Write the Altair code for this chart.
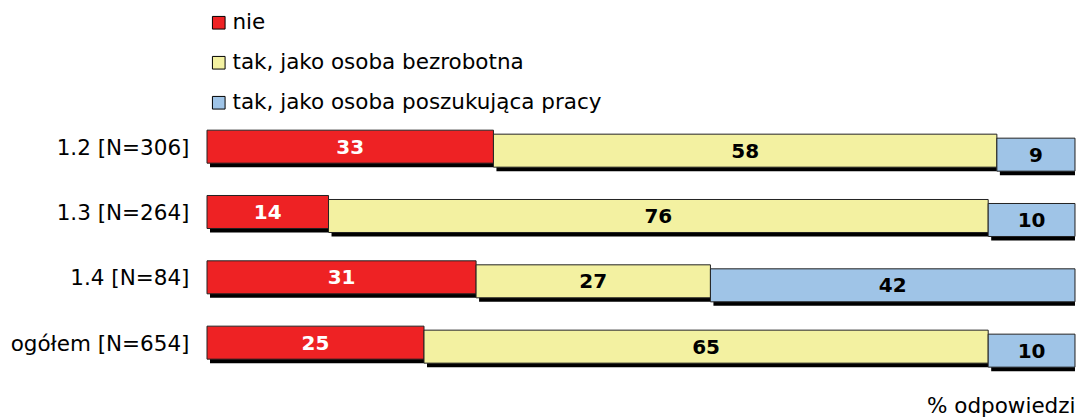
import altair as alt
import pandas as pd

categories = ["1.2 [N=306]", "1.3 [N=264]", "1.4 [N=84]", "ogółem [N=654]"]
series = ["nie", "tak, jako osoba bezrobotna", "tak, jako osoba poszukująca pracy"]
nie = [33, 14, 31, 25]
bezrobotna = [58, 76, 27, 65]
poszukujaca = [9, 10, 42, 10]
colors = ["#EE2224", "#F3F1A1", "#9FC4E7"]
text_colors = ["white", "black", "black"]

rows = []
for si, (s, vals) in enumerate(zip(series, [nie, bezrobotna, poszukujaca])):
    for c, v in zip(categories, vals):
        rows.append({"cat": c, "series": s, "order": si, "value": v})
df = pd.DataFrame(rows)

FONT = "DejaVu Sans"
STEP = 65.33
BAR = 33
FS = 21.5

base = alt.Chart(df).transform_stack(
    stack="value", groupby=["cat"], sort=[alt.SortField("order")], as_=["x0", "x1"]
).transform_calculate(mid="(datum.x0 + datum.x1) / 2")

xenc = alt.X(
    "x0:Q",
    scale=alt.Scale(domain=[0, 100], nice=False, zero=False),
    axis=alt.Axis(labels=False, ticks=False, domain=False, grid=False,
                  title="% odpowiedzi", titleAnchor="end", titleFontSize=FS,
                  titleFontWeight="normal", titleFont=FONT, titlePadding=20,
                  titleColor="black"),
)
yenc = alt.Y(
    "cat:N", sort=categories,
    scale=alt.Scale(paddingInner=0, paddingOuter=0),
    axis=alt.Axis(title=None, ticks=False, domain=False, grid=False, labelFontSize=FS,
                  labelFont=FONT, labelColor="black", labelPadding=18, labelOffset=2),
)

layers = []
# shadows
for i, s in enumerate(series):
    layers.append(
        base.transform_filter(alt.datum.series == s)
        .mark_bar(color="black", size=BAR, xOffset=3, yOffset=4 + i * 4)
        .encode(x=xenc, x2="x1:Q", y=yenc)
    )
# coloured segments
for i, s in enumerate(series):
    layers.append(
        base.transform_filter(alt.datum.series == s)
        .mark_bar(size=BAR, yOffset=i * 4, stroke="#222222", strokeWidth=1)
        .encode(
            x=xenc, x2="x1:Q", y=yenc,
            color=alt.Color(
                "series:N",
                scale=alt.Scale(domain=series, range=colors),
                legend=alt.Legend(
                    title=None, orient="none", legendX=1, legendY=-102,
                    symbolType="square", symbolSize=160, symbolStrokeColor="black",
                    symbolStrokeWidth=1, labelFontSize=FS, labelFont=FONT,
                    labelColor="black", rowPadding=17, labelOffset=3,
                    symbolOpacity=1, labelLimit=0,
                ),
            ),
        )
    )
# labels
for i, s in enumerate(series):
    layers.append(
        base.transform_filter(alt.datum.series == s)
        .mark_text(font=FONT, fontSize=20, fontWeight="bold", color=text_colors[i],
                   baseline="middle", align="center", yOffset=i * 4 + 1)
        .encode(x="mid:Q", y=yenc, text=alt.Text("value:Q", format=".0f"))
    )

chart = alt.layer(*layers).properties(
    width=868, height=STEP * 4,
    autosize=alt.AutoSizeParams(type="none"),
    padding={"left": 199, "top": 106, "right": 3, "bottom": 44},
).configure(font=FONT).configure_view(strokeWidth=0, stroke=None)

chart.save("out.html", embed_options={"renderer": "svg", "actions": False})
